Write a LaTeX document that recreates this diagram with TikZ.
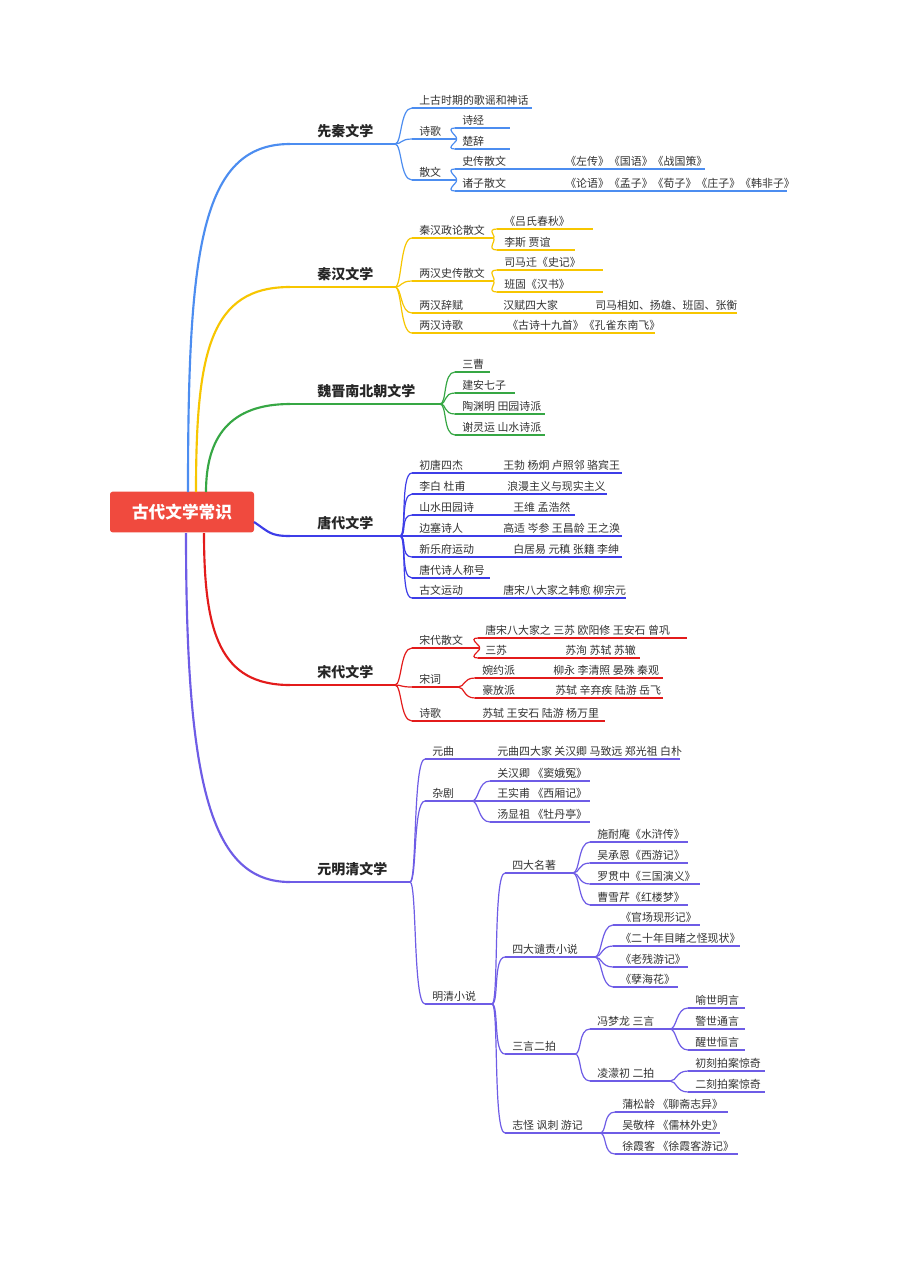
\documentclass[tikz,border=0pt]{standalone}
\usepackage{fontspec}
\setmainfont{Noto Sans CJK SC}
\usetikzlibrary{calc}
\definecolor{cxq}{HTML}{4C8DF0}
\definecolor{cqh}{HTML}{F7C600}
\definecolor{cwj}{HTML}{36A744}
\definecolor{ctd}{HTML}{3D3DE8}
\definecolor{csd}{HTML}{E31B1B}
\definecolor{cym}{HTML}{6E5CE6}
\definecolor{croot}{HTML}{F04A3E}
\tikzset{
 lbl/.style={inner sep=0pt,font=\fontsize{8.2}{9}\selectfont,text=black!80},
 mlbl/.style={inner sep=0pt,font=\fontsize{10.5}{12}\selectfont\bfseries,text=black!85},
 sub/.style={line width=0.9pt},
 mainl/.style={line width=1.6pt},
}
\newcommand\br[6]{%
 \coordinate (#1-s) at (#2,#4); \coordinate (#1-e) at (#3,#4);
 \draw[sub,#6] (#1-s)--(#1-e);
 \node[lbl,anchor=base west] (#1) at (#2+7,#4-3.5) {#5};}
\newcommand\mbr[6]{%
 \coordinate (#1-s) at (#2,#4); \coordinate (#1-e) at (#3,#4);
 \draw[mainl,#6] (#1-s)--(#1-e);
 \node[mlbl,anchor=base west] (#1) at (317,#4-8) {#5};}
\newcommand\tx[4]{\node[lbl,anchor=base west] (#1) at (#2,#3-3.5) {#4};}
\newcommand\cn[3]{\draw[sub,#3] (#1-e) .. controls +(7,0) and +(-12,0) .. (#2-s);}
\begin{document}
\begin{tikzpicture}[x=0.75pt,y=-0.75pt]
\useasboundingbox[fill=white] (0,0) rectangle (910,1286);
\node[fill=croot,rounded corners=2pt,minimum width=108pt,minimum height=30.5pt,text=white,font=\fontsize{12.5}{14}\selectfont\bfseries] (root) at (182,512) {古代文学常识};
\coordinate (r1) at (188,492);\coordinate (r2) at (196,492);\coordinate (r3) at (206,492);
\coordinate (r4) at (254,522);\coordinate (r5) at (204,533);\coordinate (r6) at (186,533);
\mbr{xq}{290}{395}{144}{先秦文学}{cxq}
\mbr{qh}{290}{395}{287}{秦汉文学}{cqh}
\mbr{wj}{290}{440}{404}{魏晋南北朝文学}{cwj}
\mbr{td}{290}{400}{536}{唐代文学}{ctd}
\mbr{sd}{290}{395}{685}{宋代文学}{csd}
\mbr{ym}{290}{410}{882}{元明清文学}{cym}
\draw[mainl,cxq] (r1) .. controls +(0,-240) and +(-90,0) .. (xq-s);
\draw[mainl,cqh] (r2) .. controls +(0,-140) and +(-80,0) .. (qh-s);
\draw[mainl,cwj] (r3) .. controls +(0,-55) and +(-60,0) .. (wj-s);
\draw[mainl,ctd] (r4) .. controls +(15,10) and +(-20,0) .. (td-s);
\draw[mainl,csd] (r5) .. controls +(0,100) and +(-70,0) .. (sd-s);
\draw[mainl,cym] (r6) .. controls +(0,250) and +(-80,0) .. (ym-s);
\br{xq1}{412}{532}{108}{上古时期的歌谣和神话}{cxq}
\br{xq2}{412}{455}{139}{诗歌}{cxq}
\br{xq21}{455}{510}{128}{诗经}{cxq}
\br{xq22}{455}{510}{149}{楚辞}{cxq}
\br{xq3}{412}{455}{180}{散文}{cxq}
\br{xq31}{455}{705}{169}{史传散文}{cxq}
\tx{xq31t}{565}{169}{《左传》《国语》《战国策》}
\br{xq32}{455}{787}{191}{诸子散文}{cxq}
\tx{xq32t}{565}{191}{《论语》《孟子》《荀子》《庄子》《韩非子》}
\cn{xq}{xq1}{cxq}\cn{xq}{xq2}{cxq}\cn{xq}{xq3}{cxq}
\cn{xq2}{xq21}{cxq}\cn{xq2}{xq22}{cxq}\cn{xq3}{xq31}{cxq}\cn{xq3}{xq32}{cxq}
\br{qh1}{412}{492}{238}{秦汉政论散文}{cqh}
\br{qh11}{497}{593}{229}{《吕氏春秋》}{cqh}
\br{qh12}{497}{575}{250}{李斯\ 贾谊}{cqh}
\br{qh2}{412}{492}{281}{两汉史传散文}{cqh}
\br{qh21}{497}{603}{270}{司马迁《史记》}{cqh}
\br{qh22}{497}{603}{292}{班固《汉书》}{cqh}
\br{qh3}{412}{737}{313}{两汉辞赋}{cqh}
\tx{qh3a}{503}{313}{汉赋四大家}
\tx{qh3b}{595}{313}{司马相如、扬雄、班固、张衡}
\br{qh4}{412}{655}{333}{两汉诗歌}{cqh}
\tx{qh4a}{507}{333}{《古诗十九首》《孔雀东南飞》}
\cn{qh}{qh1}{cqh}\cn{qh}{qh2}{cqh}\cn{qh}{qh3}{cqh}\cn{qh}{qh4}{cqh}
\cn{qh1}{qh11}{cqh}\cn{qh1}{qh12}{cqh}\cn{qh2}{qh21}{cqh}\cn{qh2}{qh22}{cqh}
\br{wj1}{455}{490}{372}{三曹}{cwj}
\br{wj2}{455}{515}{393}{建安七子}{cwj}
\br{wj3}{455}{545}{414}{陶渊明\ 田园诗派}{cwj}
\br{wj4}{455}{545}{435}{谢灵运\ 山水诗派}{cwj}
\cn{wj}{wj1}{cwj}\cn{wj}{wj2}{cwj}\cn{wj}{wj3}{cwj}\cn{wj}{wj4}{cwj}
\br{td1}{412}{622}{473}{初唐四杰}{ctd}
\tx{td1a}{503}{473}{王勃\ 杨炯\ 卢照邻\ 骆宾王}
\br{td2}{412}{607}{494}{李白\ 杜甫}{ctd}
\tx{td2a}{507}{494}{浪漫主义与现实主义}
\br{td3}{412}{575}{515}{山水田园诗}{ctd}
\tx{td3a}{513}{515}{王维\ 孟浩然}
\br{td4}{412}{622}{536}{边塞诗人}{ctd}
\tx{td4a}{503}{536}{高适\ 岑参\ 王昌龄\ 王之涣}
\br{td5}{412}{622}{557}{新乐府运动}{ctd}
\tx{td5a}{513}{557}{白居易\ 元稹\ 张籍\ 李绅}
\br{td6}{412}{490}{578}{唐代诗人称号}{ctd}
\br{td7}{412}{626}{598}{古文运动}{ctd}
\tx{td7a}{503}{598}{唐宋八大家之韩愈\ 柳宗元}
\foreach \i in {1,...,7}{\cn{td}{td\i}{ctd}}
\br{sd1}{412}{478}{648}{宋代散文}{csd}
\br{sd11}{478}{687}{638}{唐宋八大家之\ 三苏\ 欧阳修\ 王安石\ 曾巩}{csd}
\br{sd12}{478}{640}{658}{三苏}{csd}
\tx{sd12a}{565}{658}{苏洵\ 苏轼\ 苏辙}
\br{sd2}{412}{458}{687}{宋词}{csd}
\br{sd21}{475}{663}{678}{婉约派}{csd}
\tx{sd21a}{553}{678}{柳永\ 李清照\ 晏殊\ 秦观}
\br{sd22}{475}{663}{698}{豪放派}{csd}
\tx{sd22a}{555}{698}{苏轼\ 辛弃疾\ 陆游\ 岳飞}
\br{sd3}{412}{605}{721}{诗歌}{csd}
\tx{sd3a}{482}{721}{苏轼\ 王安石\ 陆游\ 杨万里}
\cn{sd}{sd1}{csd}\cn{sd}{sd2}{csd}\cn{sd}{sd3}{csd}
\cn{sd1}{sd11}{csd}\cn{sd1}{sd12}{csd}\cn{sd2}{sd21}{csd}\cn{sd2}{sd22}{csd}
\br{ym1}{425}{680}{759}{元曲}{cym}
\tx{ym1a}{497}{759}{元曲四大家\ 关汉卿\ 马致远\ 郑光祖\ 白朴}
\br{ym2}{425}{472}{801}{杂剧}{cym}
\br{ym21}{490}{590}{781}{关汉卿\ 《窦娥冤》}{cym}
\br{ym22}{490}{590}{801}{王实甫\ 《西厢记》}{cym}
\br{ym23}{490}{590}{822}{汤显祖\ 《牡丹亭》}{cym}
\br{ym3}{425}{492}{1004}{明清小说}{cym}
\cn{ym}{ym1}{cym}\cn{ym}{ym2}{cym}\cn{ym}{ym3}{cym}
\cn{ym2}{ym21}{cym}\cn{ym2}{ym22}{cym}\cn{ym2}{ym23}{cym}
\br{mq1}{505}{573}{873}{四大名著}{cym}
\br{mq11}{590}{688}{842}{施耐庵《水浒传》}{cym}
\br{mq12}{590}{688}{863}{吴承恩《西游记》}{cym}
\br{mq13}{590}{700}{884}{罗贯中《三国演义》}{cym}
\br{mq14}{590}{688}{905}{曹雪芹《红楼梦》}{cym}
\br{mq2}{505}{595}{957}{四大谴责小说}{cym}
\br{mq21}{613}{700}{925}{《官场现形记》}{cym}
\br{mq22}{613}{740}{946}{《二十年目睹之怪现状》}{cym}
\br{mq23}{613}{688}{967}{《老残游记》}{cym}
\br{mq24}{613}{678}{987}{《孽海花》}{cym}
\br{mq3}{505}{575}{1054}{三言二拍}{cym}
\br{mq31}{590}{670}{1029}{冯梦龙\ 三言}{cym}
\br{mq311}{688}{745}{1008}{喻世明言}{cym}
\br{mq312}{688}{745}{1029}{警世通言}{cym}
\br{mq313}{688}{745}{1050}{醒世恒言}{cym}
\br{mq32}{590}{670}{1081}{凌濛初\ 二拍}{cym}
\br{mq321}{688}{765}{1071}{初刻拍案惊奇}{cym}
\br{mq322}{688}{765}{1092}{二刻拍案惊奇}{cym}
\br{mq4}{505}{600}{1133}{志怪\ 讽刺\ 游记}{cym}
\br{mq41}{615}{728}{1112}{蒲松龄\ 《聊斋志异》}{cym}
\br{mq42}{615}{720}{1133}{吴敬梓\ 《儒林外史》}{cym}
\br{mq43}{615}{738}{1154}{徐霞客\ 《徐霞客游记》}{cym}
\foreach \i in {1,...,4}{\cn{ym3}{mq\i}{cym}\cn{mq1}{mq1\i}{cym}\cn{mq2}{mq2\i}{cym}}
\foreach \i in {1,...,3}{\cn{mq4}{mq4\i}{cym}\cn{mq31}{mq31\i}{cym}}
\cn{mq3}{mq31}{cym}\cn{mq3}{mq32}{cym}\cn{mq32}{mq321}{cym}\cn{mq32}{mq322}{cym}
\end{tikzpicture}
\end{document}
